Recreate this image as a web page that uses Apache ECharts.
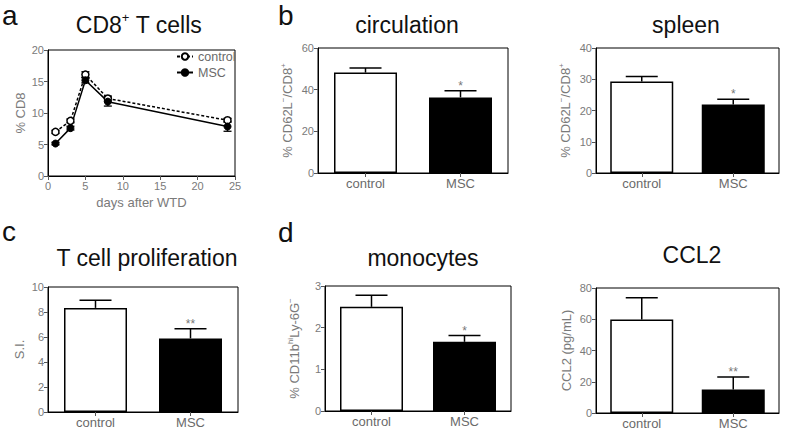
<!DOCTYPE html>
<html><head><meta charset="utf-8">
<script src="https://cdn.jsdelivr.net/npm/echarts@6/dist/echarts.min.js"></script>
<style>html,body{margin:0;padding:0;background:#fff}#c{width:787px;height:430px}</style>
</head><body><div id="c"></div>
<script>
// ---------- data ----------
const categories = ['control', 'MSC'];

const days = [1, 3, 5, 8, 24];
const cd8Control = [7.0, 8.75, 16.1, 12.3, 8.85];
const cd8ControlErr = [0.25, 0.3, 0.45, 0.4, 0.3];
const cd8MSC = [5.15, 7.6, 15.2, 11.8, 7.85];
const cd8MSCErr = [0.2, 0.3, 0.4, 0.7, 0.75];

const circValues = [48.2, 36.3];
const circErr = [2.2, 3.2];
const circStars = ['', '*'];

const spleenValues = [29.3, 21.9];
const spleenErr = [1.6, 1.7];
const spleenStars = ['', '*'];

const prolifValues = [8.33, 5.89];
const prolifErr = [0.62, 0.77];
const prolifStars = ['', '**'];

const monoValues = [2.5, 1.66];
const monoErr = [0.28, 0.15];
const monoStars = ['', '*'];

const ccl2Values = [59.8, 15.0];
const ccl2Err = [14, 8];
const ccl2Stars = ['', '**'];

// ---------- styling / layout ----------
const FONT = '"Liberation Sans", Arial, Helvetica, sans-serif';
const TICK_COLOR = '#7a7a7a';
const NAME_COLOR = '#7a7a7a';

const gridBase = {show: true, borderColor: '#000', borderWidth: 1, backgroundColor: 'transparent', containLabel: false, outerBoundsMode: 'none'};
const grids = [
  Object.assign({left: 48, top: 50, width: 187, height: 126}, gridBase),   // a
  Object.assign({left: 318, top: 48, width: 190, height: 125}, gridBase),  // circulation
  Object.assign({left: 596, top: 48, width: 183, height: 125}, gridBase),  // spleen
  Object.assign({left: 48, top: 287, width: 190, height: 125}, gridBase),  // prolif
  Object.assign({left: 325, top: 286, width: 186, height: 125}, gridBase), // monocytes
  Object.assign({left: 596, top: 288, width: 183, height: 125}, gridBase)  // CCL2
];

const supRich = {
  sup: {fontSize: 8, verticalAlign: 'top', color: NAME_COLOR, fontFamily: FONT, lineHeight: 10},
  base: {fontSize: 13, color: NAME_COLOR, fontFamily: FONT, lineHeight: 16}
};

function valueY(gi, max, interval, name, gap) {
  return {
    gridIndex: gi, type: 'value', min: 0, max: max, interval: interval,
    axisLine: {show: true, lineStyle: {color: '#000', width: 1}},
    axisTick: {show: true, length: 4, lineStyle: {color: '#555'}},
    axisLabel: {color: TICK_COLOR, fontSize: 11, margin: 4, fontFamily: FONT},
    splitLine: {show: false},
    name: name, nameLocation: 'middle', nameGap: gap,
    nameTextStyle: {fontSize: 13, color: NAME_COLOR, fontFamily: FONT, rich: supRich}
  };
}
function catX(gi) {
  return {
    gridIndex: gi, type: 'category', data: categories,
    axisLine: {show: true, lineStyle: {color: '#000', width: 1}},
    axisTick: {show: true, alignWithLabel: true, length: 4, lineStyle: {color: '#555'}},
    axisLabel: {color: '#6a6a6a', fontSize: 13, margin: 4, fontFamily: FONT}
  };
}

const xAxes = [
  {
    gridIndex: 0, type: 'value', min: 0, max: 25, interval: 5,
    axisLine: {show: true, lineStyle: {color: '#000', width: 1}},
    axisTick: {show: true, length: 4, lineStyle: {color: '#555'}},
    axisLabel: {color: TICK_COLOR, fontSize: 11, margin: 4, fontFamily: FONT},
    splitLine: {show: false},
    name: 'days after WTD', nameLocation: 'middle', nameGap: 20,
    nameTextStyle: {fontSize: 13, color: NAME_COLOR, fontFamily: FONT}
  },
  catX(1), catX(2), catX(3), catX(4), catX(5)
];
const yAxes = [
  valueY(0, 20, 5, '% CD8', 21),
  valueY(1, 60, 20, '{base|% CD62L}{sup|−}{base|/CD8}{sup|+}', 23),
  valueY(2, 40, 10, '{base|% CD62L}{sup|−}{base|/CD8}{sup|+}', 23),
  valueY(3, 10, 2, 'S.I.', 22),
  valueY(4, 3, 1, '{base|% CD11b}{sup|hi}{base|Ly-6G}{sup|−}', 23),
  valueY(5, 80, 20, 'CCL2 (pg/mL)', 23)
];

function barSeries(gi, values) {
  return {
    type: 'bar', name: 'bars' + gi, xAxisIndex: gi, yAxisIndex: gi, barWidth: 63,
    data: values.map((v, i) => ({
      value: v,
      itemStyle: {color: i === 0 ? '#fff' : '#000', borderColor: '#000', borderWidth: 1.5}
    })),
    z: 2
  };
}
function barErrSeries(gi, values, errs, stars) {
  return {
    type: 'custom', name: 'err' + gi, xAxisIndex: gi, yAxisIndex: gi, z: 3,
    encode: {x: 0, y: 1},
    data: values.map((v, i) => [i, v, errs[i]]),
    renderItem: function (params, api) {
      const i = api.value(0), v = api.value(1), e = api.value(2);
      const b = api.coord([i, v]);
      const t = api.coord([i, v + e]);
      const half = 16;
      const children = [
        {type: 'line', shape: {x1: b[0], y1: b[1], x2: t[0], y2: t[1]}, style: {stroke: '#000', lineWidth: 1.5}},
        {type: 'line', shape: {x1: t[0] - half, y1: t[1], x2: t[0] + half, y2: t[1]}, style: {stroke: '#000', lineWidth: 1.5}}
      ];
      const s = stars[params.dataIndex];
      if (s) {
        children.push({type: 'text', x: t[0], y: t[1] - 5,
          style: {text: s, fill: '#777', fontSize: 12, fontFamily: FONT, align: 'center', verticalAlign: 'middle'}});
      }
      return {type: 'group', children: children};
    }
  };
}
function lineErrSeries(vals, errs) {
  return {
    type: 'custom', xAxisIndex: 0, yAxisIndex: 0, z: 2,
    encode: {x: 0, y: 1},
    data: days.map((d, i) => [d, vals[i], errs[i]]),
    renderItem: function (params, api) {
      const x = api.value(0), v = api.value(1), e = api.value(2);
      const lo = api.coord([x, v - e]);
      const hi = api.coord([x, v + e]);
      const half = 4;
      return {type: 'group', children: [
        {type: 'line', shape: {x1: lo[0], y1: lo[1], x2: hi[0], y2: hi[1]}, style: {stroke: '#000', lineWidth: 1.3}},
        {type: 'line', shape: {x1: lo[0] - half, y1: lo[1], x2: lo[0] + half, y2: lo[1]}, style: {stroke: '#000', lineWidth: 1.3}},
        {type: 'line', shape: {x1: hi[0] - half, y1: hi[1], x2: hi[0] + half, y2: hi[1]}, style: {stroke: '#000', lineWidth: 1.3}}
      ]};
    }
  };
}

const titleStyle = {fontSize: 23, fontWeight: 'normal', color: '#111', fontFamily: FONT,
  rich: {
    b: {fontSize: 23, color: '#111', fontFamily: FONT, lineHeight: 27},
    s: {fontSize: 13, color: '#111', fontFamily: FONT, verticalAlign: 'top', lineHeight: 14}
  }};
const letterStyle = {fontSize: 28, fontWeight: 'normal', color: '#111', fontFamily: FONT};

const titles = [
  {text: '{b|CD8}{s|+}{b| T cells}', left: 139, top: 11, textAlign: 'center', padding: 0, textStyle: titleStyle},
  {text: 'circulation', left: 407, top: 13, textAlign: 'center', padding: 0, textStyle: titleStyle},
  {text: 'spleen', left: 686, top: 13, textAlign: 'center', padding: 0, textStyle: titleStyle},
  {text: 'T cell proliferation', left: 147, top: 246, textAlign: 'center', padding: 0, textStyle: titleStyle},
  {text: 'monocytes', left: 423, top: 246, textAlign: 'center', padding: 0, textStyle: titleStyle},
  {text: 'CCL2', left: 692, top: 243, textAlign: 'center', padding: 0, textStyle: titleStyle},
  {text: 'a', left: 2, top: 1, padding: 0, textStyle: letterStyle},
  {text: 'b', left: 278, top: 1, padding: 0, textStyle: letterStyle},
  {text: 'c', left: 2, top: 217, padding: 0, textStyle: letterStyle},
  {text: 'd', left: 278, top: 218, padding: 0, textStyle: letterStyle}
];

const option = {
  animation: false,
  backgroundColor: '#fff',
  title: titles,
  grid: grids,
  xAxis: xAxes,
  yAxis: yAxes,
  legend: {
    data: ['control', 'MSC'], orient: 'vertical', left: 176, top: 50, width: 80,
    itemWidth: 16, itemHeight: 8, itemGap: 3, padding: 0,
    textStyle: {fontSize: 12.5, color: '#6a6a6a', fontFamily: FONT, width: 60, overflow: 'none'}
  },
  series: [
    lineErrSeries(cd8Control, cd8ControlErr),
    lineErrSeries(cd8MSC, cd8MSCErr),
    {
      type: 'line', name: 'control', xAxisIndex: 0, yAxisIndex: 0, z: 3,
      data: days.map((d, i) => [d, cd8Control[i]]),
      symbol: 'circle', symbolSize: 7,
      lineStyle: {color: '#000', width: 1.5, type: [3, 2]},
      itemStyle: {color: '#fff', borderColor: '#000', borderWidth: 1.5}
    },
    {
      type: 'line', name: 'MSC', xAxisIndex: 0, yAxisIndex: 0, z: 3,
      data: days.map((d, i) => [d, cd8MSC[i]]),
      symbol: 'circle', symbolSize: 7,
      lineStyle: {color: '#000', width: 1.5},
      itemStyle: {color: '#000', borderColor: '#000', borderWidth: 1}
    },
    barSeries(1, circValues), barErrSeries(1, circValues, circErr, circStars),
    barSeries(2, spleenValues), barErrSeries(2, spleenValues, spleenErr, spleenStars),
    barSeries(3, prolifValues), barErrSeries(3, prolifValues, prolifErr, prolifStars),
    barSeries(4, monoValues), barErrSeries(4, monoValues, monoErr, monoStars),
    barSeries(5, ccl2Values), barErrSeries(5, ccl2Values, ccl2Err, ccl2Stars)
  ]
};

const chart = echarts.init(document.getElementById('c'), null, {renderer: 'svg'});
chart.setOption(option);
</script>
</body></html>
